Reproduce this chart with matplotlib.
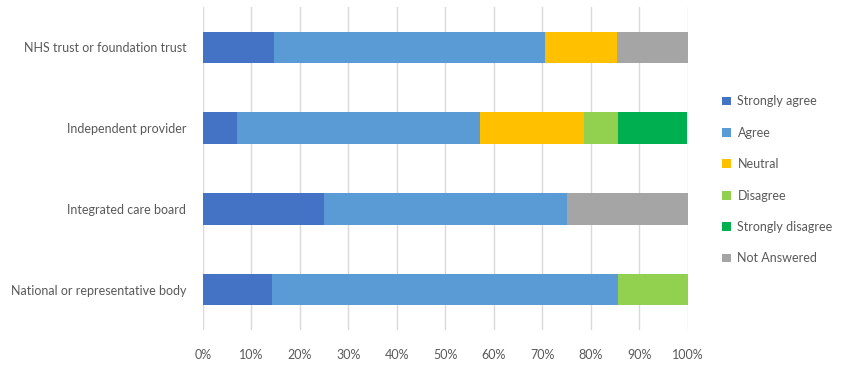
import matplotlib.pyplot as plt
import numpy as np

plt.rcParams['font.family'] = ['Lato', 'DejaVu Sans']

categories = ["National or representative body", "Integrated care board",
              "Independent provider", "NHS trust or foundation trust"]
responses = ["Strongly agree", "Agree", "Neutral", "Disagree",
             "Strongly disagree", "Not Answered"]

# percentage of respondents per category (bottom to top)
strongly_agree = [14.3, 25.0, 7.1, 14.7]
agree = [71.4, 50.0, 50.0, 55.9]
neutral = [0.0, 0.0, 21.4, 14.7]
disagree = [14.3, 0.0, 7.1, 0.0]
strongly_disagree = [0.0, 0.0, 14.3, 0.0]
not_answered = [0.0, 25.0, 0.0, 14.7]

series = [strongly_agree, agree, neutral, disagree, strongly_disagree, not_answered]
colors = ["#4472C4", "#5B9BD5", "#FFC000", "#92D050", "#00B050", "#A5A5A5"]
text_col = "#595959"

fig = plt.figure(figsize=(8.45, 3.67), dpi=100)
ax = fig.add_axes([0.240, 0.101, 0.574, 0.880])

y = np.arange(len(categories))
left = np.zeros(len(categories))
for name, vals, c in zip(responses, series, colors):
    vals = np.array(vals)
    ax.barh(y, vals, left=left, height=0.39, color=c, label=name, zorder=3)
    left += vals

ax.set_xlim(0, 100)
ax.set_ylim(-0.5, 3.5)
ax.set_xticks(np.arange(0, 101, 10))
ax.set_xticklabels([f"{t}%" for t in range(0, 101, 10)])
ax.set_yticks(y)
ax.set_yticklabels(categories)
ax.tick_params(axis='both', length=0, labelsize=9, colors=text_col)
ax.tick_params(axis='x', pad=14)
ax.tick_params(axis='y', pad=12)
ax.grid(axis='x', color="#D9D9D9", linewidth=1, zorder=0)
for s in ax.spines.values():
    s.set_visible(False)

fig.legend(loc='center left', bbox_to_anchor=(0.855, 0.51), frameon=False,
           fontsize=9, labelcolor=text_col, labelspacing=1.55,
           handlelength=0.7, handleheight=0.7, handletextpad=0.5,
           borderaxespad=0, borderpad=0)

plt.savefig("out.png", dpi=100)
